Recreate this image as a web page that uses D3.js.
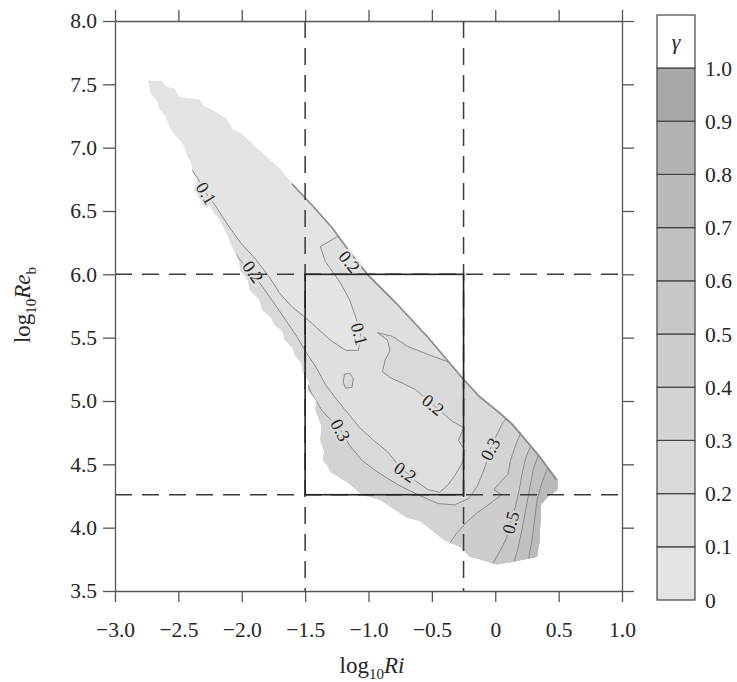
<!DOCTYPE html>
<html><head><meta charset="utf-8">
<script src="https://cdn.jsdelivr.net/npm/d3@7"></script>
<style>body{margin:0;background:#fff}</style>
</head><body>
<svg id="c" width="737" height="682"></svg>
<script>
// ---------- data ----------
const xTicks = [-3.0,-2.5,-2.0,-1.5,-1.0,-0.5,0,0.5,1.0];
const xTickLabels = ["\u22123.0","\u22122.5","\u22122.0","\u22121.5","\u22121.0","\u22120.5","0","0.5","1.0"];
const yTicks = [3.5,4.0,4.5,5.0,5.5,6.0,6.5,7.0,7.5,8.0];
const yTickLabels = ["3.5","4.0","4.5","5.0","5.5","6.0","6.5","7.0","7.5","8.0"];
const legendLevels = [0,0.1,0.2,0.3,0.4,0.5,0.6,0.7,0.8,0.9,1.0];
const legendLabels = ["0","0.1","0.2","0.3","0.4","0.5","0.6","0.7","0.8","0.9","1.0"];
const bandColors = ["#e4e4e4","#dfdfdf","#d9d9d9","#d3d3d3","#cdcdcd","#c7c7c7","#c1c1c1","#bababa","#b2b2b2","#a8a8a8"];
const dashRi = [-1.5,-0.25];
const dashRe = [6.0,4.26];
const boxRi = [-1.5,-0.25];
const boxRe = [4.26,6.0];

// outline of the data domain (log10Ri, log10Reb)
const domainEdge = [[-2.74,7.53],[-2.63,7.53],[-2.59,7.48],[-2.53,7.47],[-2.49,7.40],[-2.33,7.38],[-2.30,7.33],[-2.23,7.30],[-2.12,7.23],[-2.07,7.15],[-2.01,7.12],[-1.86,6.98],[-1.70,6.84],[-1.60,6.72],[-1.44,6.55],[-1.28,6.37],[-1.15,6.19],[-1.00,6.00],[-0.78,5.78],[-0.52,5.50],[-0.25,5.18],[-0.12,5.04],[0.04,4.91],[0.14,4.82],[0.35,4.57],[0.49,4.38],[0.49,4.30],
 [0.41,4.24],[0.36,4.18],[0.35,3.90],[0.33,3.77],[0.14,3.73],[0.01,3.71],[-0.12,3.75],[-0.20,3.77],[-0.28,3.85],[-0.40,3.90],
 [-0.59,4.05],[-0.70,4.08],[-0.91,4.22],[-1.05,4.26],[-1.17,4.36],[-1.30,4.44],[-1.33,4.50],[-1.36,4.53],[-1.35,4.60],[-1.38,4.69],[-1.37,4.80],[-1.42,4.93],[-1.41,5.00],[-1.48,5.09],[-1.47,5.15],[-1.52,5.23],[-1.53,5.30],[-1.58,5.36],[-1.60,5.42],[-1.66,5.48],[-1.68,5.55],[-1.74,5.60],[-1.77,5.66],[-1.84,5.72],[-1.86,5.80],[-1.94,5.88],[-1.95,5.95],[-2.01,6.03],[-2.02,6.10],[-2.05,6.17],[-2.08,6.22],[-2.11,6.30],[-2.14,6.36],[-2.17,6.43],[-2.22,6.48],[-2.25,6.55],[-2.29,6.60],[-2.35,6.68],[-2.35,6.75],[-2.39,6.81],[-2.40,6.88],[-2.43,6.93],[-2.45,7.00],[-2.49,7.06],[-2.53,7.10],[-2.57,7.16],[-2.60,7.24],[-2.65,7.30],[-2.67,7.37],[-2.72,7.43]];
const ridge = [[-1.60,6.72],[-1.44,6.55],[-1.28,6.37],[-1.15,6.19],[-1.00,6.00],[-0.78,5.78],[-0.52,5.50],[-0.25,5.18],[-0.12,5.04],[0.04,4.91],[0.14,4.82],[0.35,4.57],[0.49,4.38]];

// contour lines
const c01 = [[-2.44,6.90],[-2.35,6.76],[-2.28,6.64],[-2.20,6.53],[-2.11,6.39],[-2.01,6.25],[-1.90,6.13],[-1.79,5.99],[-1.70,5.85],[-1.60,5.74],[-1.50,5.66],[-1.41,5.58],[-1.30,5.48],[-1.18,5.40],[-1.08,5.40],[-1.06,5.51],[-1.10,5.66],[-1.15,5.80],[-1.22,5.93],[-1.34,6.10],[-1.38,6.22],[-1.19,6.33]];
const c02 = [[-2.07,6.19],[-2.00,6.10],[-1.91,6.00],[-1.82,5.88],[-1.73,5.75],[-1.64,5.62],[-1.56,5.50],[-1.49,5.38],[-1.41,5.26],[-1.34,5.13],[-1.25,5.01],[-1.16,4.90],[-1.07,4.79],[-0.96,4.69],[-0.85,4.60],[-0.77,4.50],[-0.63,4.37],[-0.53,4.30],[-0.44,4.28],[-0.38,4.33],[-0.32,4.41],[-0.26,4.51],[-0.24,4.61],[-0.29,4.69],[-0.25,4.79],[-0.34,4.84],[-0.49,4.97],[-0.63,5.09],[-0.73,5.14],[-0.82,5.18],[-0.89,5.23],[-0.87,5.32],[-0.83,5.40],[-0.85,5.48],[-0.93,5.54],[-0.81,5.51],[-0.69,5.43],[-0.51,5.36],[-0.32,5.29]];
const c03 = [[-1.59,5.32],[-1.51,5.20],[-1.45,5.06],[-1.37,4.93],[-1.28,4.83],[-1.22,4.77],[-1.15,4.65],[-1.05,4.53],[-0.93,4.44],[-0.77,4.34],[-0.61,4.26],[-0.45,4.19],[-0.32,4.18],[-0.21,4.23],[-0.14,4.33],[-0.08,4.48],[-0.04,4.62],[0.01,4.73],[0.06,4.83],[0.12,4.90]];
const c04 = [[0.21,4.77],[0.16,4.65],[0.12,4.53],[0.10,4.42],[0.04,4.36],[-0.01,4.30],[0.05,4.26],[-0.04,4.19],[-0.14,4.12],[-0.23,4.04],[-0.31,3.95],[-0.37,3.86]];
const c05 = [[0.29,4.67],[0.24,4.55],[0.21,4.42],[0.19,4.30],[0.16,4.17],[0.12,4.04],[0.09,3.92],[0.04,3.82],[-0.04,3.68]];
const c06 = [[0.35,4.60],[0.30,4.46],[0.27,4.30],[0.24,4.14],[0.21,3.98],[0.18,3.84],[0.14,3.70]];
const c07 = [[0.43,4.52],[0.37,4.36],[0.33,4.22],[0.31,4.06],[0.29,3.90],[0.26,3.74]];
const blob02 = [[-1.19,5.21],[-1.15,5.22],[-1.12,5.18],[-1.13,5.11],[-1.18,5.10],[-1.20,5.15]];

// closing points (outside the domain) turning each contour into the region gamma >= level
const close01 = [[-1.07,6.39],[1.62,6.39],[1.62,3.03],[-3.12,3.03],[-2.57,6.86]];
const close02 = [[-0.12,5.40],[1.62,5.40],[1.62,3.03],[-3.12,3.03],[-2.30,6.20]];
const close03 = [[0.30,5.00],[1.62,5.00],[1.62,3.03],[-3.12,3.03],[-1.80,5.32]];
const close04 = [[-0.40,3.00],[1.62,3.00],[1.62,4.90],[0.30,4.90]];
const close05 = [[-0.04,3.00],[1.62,3.00],[1.62,4.90],[0.40,4.90]];
const close06 = [[0.14,3.00],[1.62,3.00],[1.62,4.90],[0.50,4.90]];
const close07 = [[0.26,3.00],[1.62,3.00],[1.62,4.90],[0.60,4.90]];

const labelText  = ["0.1","0.2","0.2","0.1","0.2","0.3","0.2","0.3","0.5"];
const labelAt    = [[-2.28,6.64],[-1.91,6.02],[-1.15,6.10],[-1.07,5.53],[-0.49,4.97],[-1.22,4.77],[-0.71,4.44],[-0.04,4.62],[0.12,4.04]];
const labelAngle = [58,55,50,75,38,62,35,-62,-75];
const labelBand  = [0,1,0,1,1,2,2,2,4];

// ---------- drawing ----------
const svg = d3.select("#c");
const x = d3.scaleLinear().domain([-3,1]).range([115,622]);
const y = d3.scaleLinear().domain([3.5,8]).range([591,21]);
const line = d3.line().x(d=>x(d[0])).y(d=>y(d[1]));
const FONT = "'Liberation Serif','Times New Roman',serif";
const INK = "#262626";

svg.append("defs").append("clipPath").attr("id","dom")
  .append("path").attr("d", line(domainEdge)+"Z");

const g = svg.append("g").attr("clip-path","url(#dom)");
g.append("path").attr("d", line(domainEdge)+"Z").attr("fill", bandColors[0]);

const regions = [
  {pts:c01.concat(close01), band:1},
  {pts:c02.concat(close02), band:2},
  {pts:blob02, band:2},
  {pts:c03.concat(close03), band:3},
  {pts:c04.concat(close04), band:4},
  {pts:c05.concat(close05), band:5},
  {pts:c06.concat(close06), band:6},
  {pts:c07.concat(close07), band:7}
];
g.selectAll("path.reg").data(regions).join("path").attr("class","reg")
  .attr("d", d=>line(d.pts)+"Z").attr("fill", d=>bandColors[d.band]);

const lines = [c01,c02,c03,c04,c05,c06,c07];
g.selectAll("path.cl").data(lines).join("path").attr("class","cl")
  .attr("d", d=>line(d)).attr("fill","none").attr("stroke","#8a8a8a").attr("stroke-width",1);
g.append("path").attr("d", line(blob02)+"Z").attr("fill","none").attr("stroke","#8a8a8a").attr("stroke-width",1);
g.append("path").attr("d", line(ridge)).attr("fill","none").attr("stroke","#8c8c8c").attr("stroke-width",3.4);

svg.selectAll("text.cl").data(labelText).join("text").attr("class","cl")
  .attr("transform",(d,i)=>`translate(${x(labelAt[i][0])},${y(labelAt[i][1])}) rotate(${labelAngle[i]})`)
  .attr("text-anchor","middle").attr("dy","0.35em")
  .attr("font-family",FONT).attr("font-size",18).attr("fill","#222")
  .attr("stroke",(d,i)=>bandColors[labelBand[i]]).attr("stroke-width",5)
  .attr("stroke-linejoin","round").attr("paint-order","stroke")
  .text(d=>d);

// dashed reference lines
svg.selectAll("line.dv").data(dashRi).join("line").attr("class","dv")
  .attr("x1",d=>x(d)).attr("x2",d=>x(d)).attr("y1",y(8)).attr("y2",y(3.5))
  .attr("stroke","#3a3a3a").attr("stroke-width",1.5).attr("stroke-dasharray","17,10");
svg.selectAll("line.dh").data(dashRe).join("line").attr("class","dh")
  .attr("y1",d=>y(d)).attr("y2",d=>y(d)).attr("x1",x(-3)).attr("x2",x(1))
  .attr("stroke","#3a3a3a").attr("stroke-width",1.5).attr("stroke-dasharray","17,10");
svg.append("rect").attr("x",x(boxRi[0])).attr("y",y(boxRe[1]))
  .attr("width",x(boxRi[1])-x(boxRi[0])).attr("height",y(boxRe[0])-y(boxRe[1]))
  .attr("fill","none").attr("stroke","#222").attr("stroke-width",1.6);

// axes (frame)
function styleAxis(sel){
  sel.selectAll(".domain,.tick line").attr("stroke","#555").attr("stroke-width",1.3);
  sel.selectAll("text").attr("font-family",FONT).attr("font-size",21.5).attr("fill",INK);
}
svg.append("g").attr("transform",`translate(0,${y(3.5)})`)
  .call(d3.axisBottom(x).tickValues(xTicks).tickFormat((d,i)=>xTickLabels[i]).tickSize(11).tickSizeOuter(0).tickPadding(20))
  .call(styleAxis);
svg.append("g").attr("transform",`translate(0,${y(8)})`)
  .call(d3.axisTop(x).tickValues(xTicks).tickFormat("").tickSize(11).tickSizeOuter(0))
  .call(styleAxis);
svg.append("g").attr("transform",`translate(${x(-3)},0)`)
  .call(d3.axisLeft(y).tickValues(yTicks).tickFormat((d,i)=>yTickLabels[i]).tickSize(12).tickSizeOuter(0).tickPadding(6))
  .call(styleAxis);
svg.append("g").attr("transform",`translate(${x(1)},0)`)
  .call(d3.axisRight(y).tickValues(yTicks).tickFormat("").tickSize(12).tickSizeOuter(0))
  .call(styleAxis);

// axis titles
const xt = svg.append("text").attr("x",372).attr("y",673).attr("text-anchor","middle")
  .attr("font-family",FONT).attr("font-size",23).attr("fill",INK);
xt.append("tspan").text("log");
xt.append("tspan").attr("font-size",15).attr("dy",6).text("10");
xt.append("tspan").attr("font-style","italic").attr("dy",-6).text("Ri");

const yt = svg.append("text").attr("transform","translate(30,305) rotate(-90)").attr("text-anchor","middle")
  .attr("font-family",FONT).attr("font-size",23).attr("fill",INK);
yt.append("tspan").text("log");
yt.append("tspan").attr("font-size",15).attr("dy",6).text("10");
yt.append("tspan").attr("font-style","italic").attr("dy",-6).text("Re");
yt.append("tspan").attr("font-size",15).attr("dy",6).text("b");

// legend colour bar
const ly = d3.scaleLinear().domain([0,1]).range([600,68]);
const lx = 657, lw = 38;
const lg = svg.append("g");
lg.selectAll("rect.band").data(bandColors).join("rect").attr("class","band")
  .attr("x",lx).attr("width",lw)
  .attr("y",(d,i)=>ly(legendLevels[i+1])).attr("height",(d,i)=>ly(legendLevels[i])-ly(legendLevels[i+1]))
  .attr("fill",d=>d).attr("stroke","#444").attr("stroke-width",1.2);
lg.append("rect").attr("x",lx).attr("y",15).attr("width",lw).attr("height",ly(1)-15)
  .attr("fill","#fff").attr("stroke","#444").attr("stroke-width",1.2);
lg.append("text").attr("x",lx+lw/2).attr("y",(15+ly(1))/2).attr("dy","0.35em").attr("text-anchor","middle")
  .attr("font-family",FONT).attr("font-style","italic").attr("font-size",22).attr("fill",INK).text("\u03b3");
lg.selectAll("text.ll").data(legendLevels).join("text").attr("class","ll")
  .attr("x",lx+lw+10).attr("y",d=>ly(d)).attr("dy","0.35em")
  .attr("font-family",FONT).attr("font-size",21.5).attr("fill",INK)
  .text((d,i)=>legendLabels[i]);
</script>
</body></html>
